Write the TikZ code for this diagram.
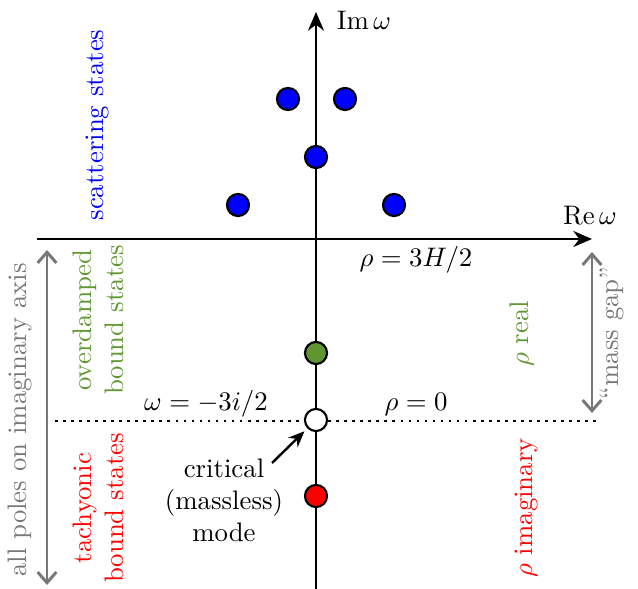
\documentclass[tikz,border=0pt]{standalone}
\usepackage{amsmath}
\usetikzlibrary{arrows.meta}
\definecolor{olive}{RGB}{96,150,50}
\definecolor{mygray}{RGB}{120,120,120}
\begin{document}
\begin{tikzpicture}[
  x=0.01312cm, y=-0.01312cm,
  every node/.style={font=\normalsize, align=center},
  axis/.style={line width=0.9pt, -{Stealth[length=7pt,width=6pt]}},
  pole/.style={circle, draw=black, line width=0.8pt, minimum size=2.9mm, inner sep=0pt},
  span/.style={mygray, line width=1.1pt, {Straight Barb[length=4pt,width=7pt]}-{Straight Barb[length=4pt,width=7pt]}},
  vlab/.style={rotate=90, inner sep=1pt}
]
\useasboundingbox (0,0) rectangle (638,589);

% Achsen
\coordinate (xl) at (37,239);
\coordinate (xr) at (592,239);
\coordinate (yb) at (316,589);
\coordinate (yt) at (316,12);
\draw[axis] (xl) -- (xr);
\draw[axis] (yb) -- (yt);
\node (im) at (364,20) {$\mathrm{Im}\,\omega$};
\node (re) at (590,215) {$\mathrm{Re}\,\omega$};

% kritische Linie
\coordinate (dl) at (55,421);
\coordinate (dr) at (596,421);
\draw[dotted, line width=1pt] (dl) -- (dr);

% Pole
\node[pole, fill=blue] (s1) at (288,99) {};
\node[pole, fill=blue] (s2) at (345,99) {};
\node[pole, fill=blue] (s3) at (316,157) {};
\node[pole, fill=blue] (s4) at (238,205) {};
\node[pole, fill=blue] (s5) at (394,205) {};
\node[pole, fill=olive] (od) at (316,353) {};
\node[pole, fill=white] (p0) at (316,420) {};
\node[pole, fill=red] (ta) at (316,496) {};

% Beschriftungen
\node (rho1) at (416,260) {$\rho = 3H/2$};
\node (om) at (206,404) {$\omega = -3i/2$};
\node (rho0) at (416,404) {$\rho = 0$};
\node (crit) at (224,500) {critical\\(massless)\\mode};
\coordinate (ca) at (272,463);
\draw[line width=0.9pt, -{Stealth[length=6pt,width=5pt]}, shorten >=1.5pt] (ca) -- (p0);

\node[vlab, blue] (scat) at (97,125) {scattering states};
\node[vlab, olive] (over) at (98,320) {overdamped\\bound states};
\node[vlab, red] (tach) at (98,508) {tachyonic\\bound states};
\node[vlab, olive] (rre) at (522,334) {$\rho$ real};
\node[vlab, red] (rim) at (526,508) {$\rho$ imaginary};
\node[vlab, mygray] (all) at (20,420) {all poles on imaginary axis};
\node[vlab, mygray] (gap) at (612,333) {``mass gap''};

% Bereiche
\coordinate (a1) at (47,250);
\coordinate (a2) at (47,585);
\coordinate (g1) at (592,252);
\coordinate (g2) at (592,413);
\draw[span] (a1) -- (a2);
\draw[span] (g1) -- (g2);
\end{tikzpicture}
\end{document}
